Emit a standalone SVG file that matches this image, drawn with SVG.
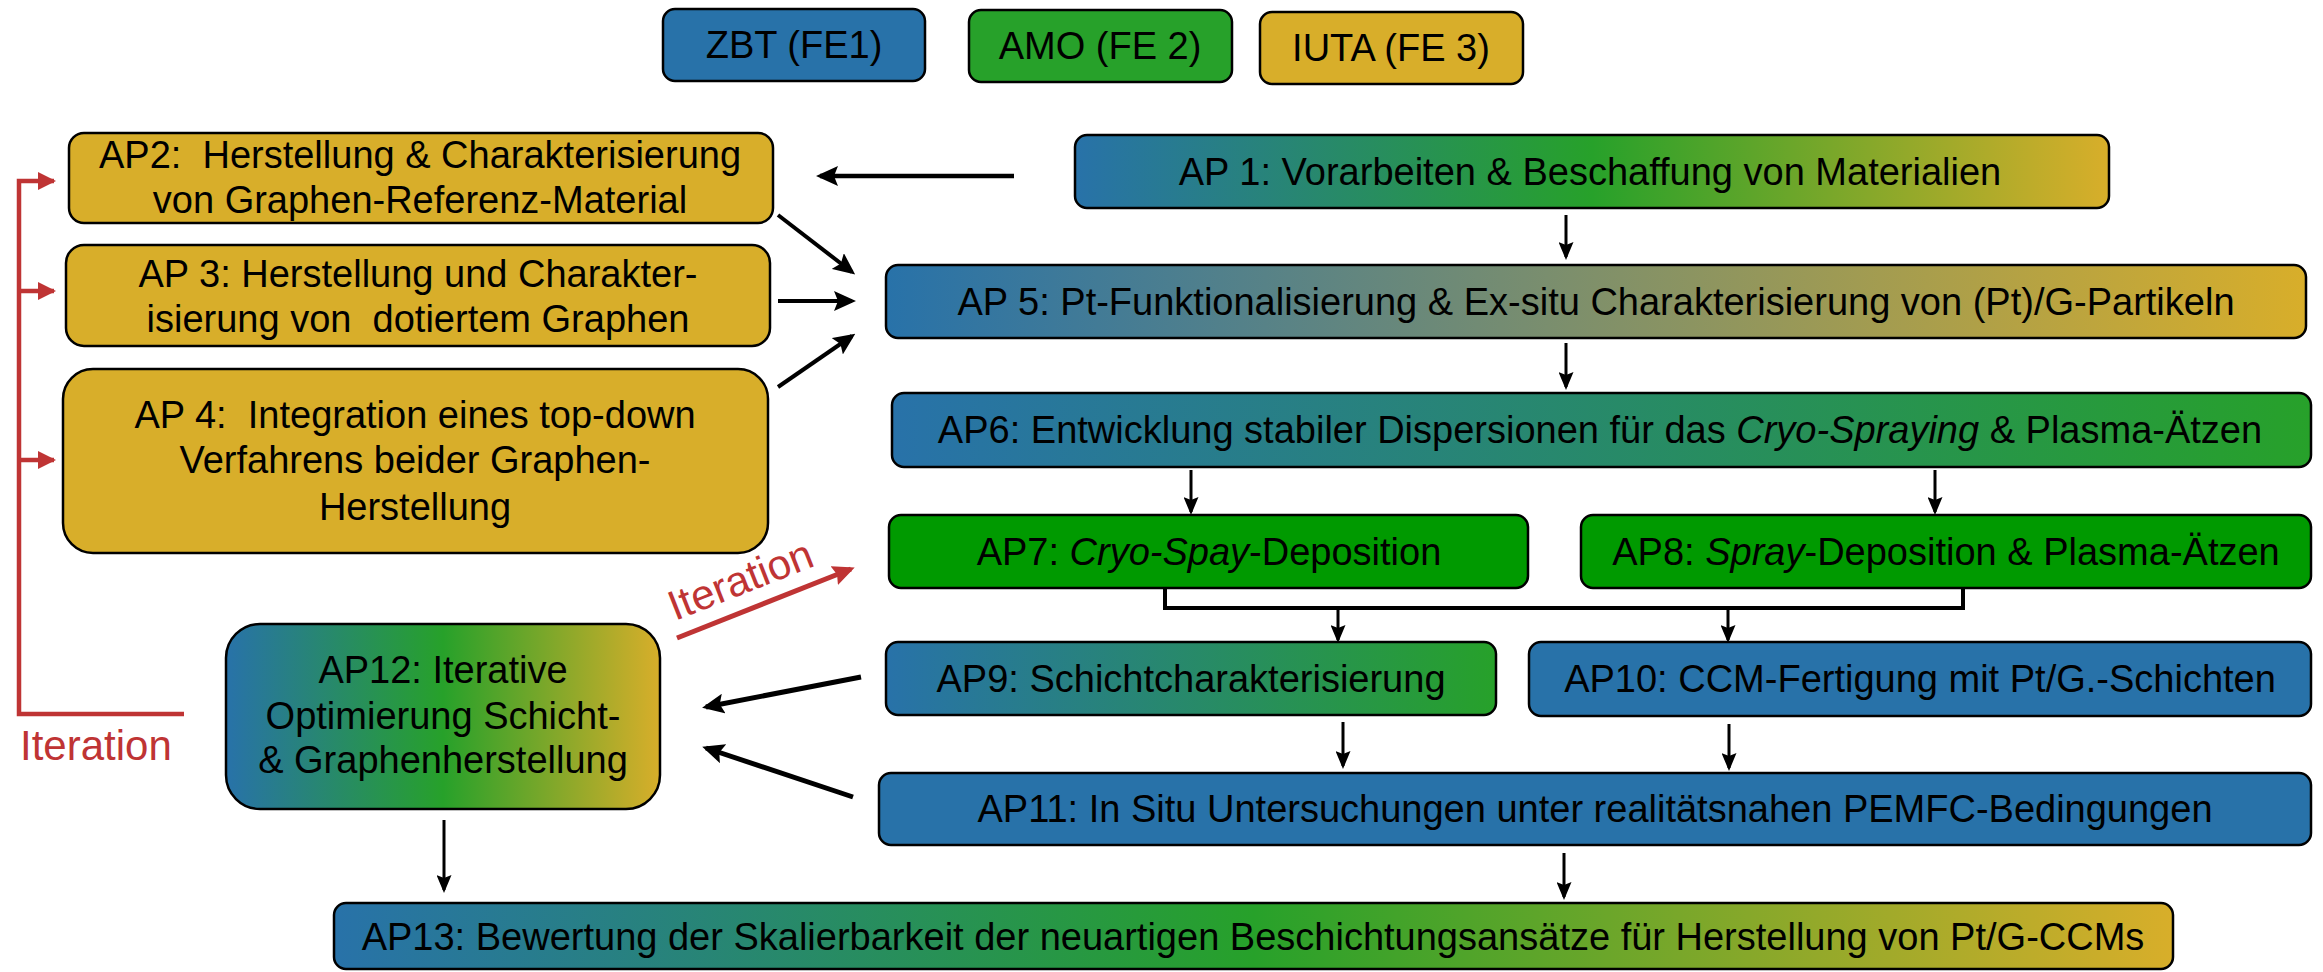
<svg xmlns="http://www.w3.org/2000/svg" width="2323" height="972" viewBox="0 0 2323 972">
<style>
.box{stroke:#000;stroke-width:2.5}
.t{font-family:"Liberation Sans",Arial,sans-serif;font-size:38px;fill:#000;text-anchor:middle}
.i{font-style:italic}
.blue{fill:#2872A9}
.green{fill:#27A12A}
.dgreen{fill:#009A00}
.gold{fill:#D8AE2A}
.a{stroke:#000;fill:none}
.r{stroke:#BF3434;fill:none}
.rt{font-family:"Liberation Sans",Arial,sans-serif;font-size:42px;fill:#BF3434}
</style>
<defs>
<linearGradient id="gBGY" x1="0" y1="0" x2="1" y2="0">
<stop offset="0" stop-color="#2872A9"/><stop offset="0.5" stop-color="#27A12A"/><stop offset="1" stop-color="#D8AE2A"/>
</linearGradient>
<linearGradient id="gBY" x1="0" y1="0" x2="1" y2="0">
<stop offset="0" stop-color="#2872A9"/><stop offset="1" stop-color="#D8AE2A"/>
</linearGradient>
<linearGradient id="gBG" x1="0" y1="0" x2="1" y2="0">
<stop offset="0" stop-color="#2872A9"/><stop offset="1" stop-color="#27A12A"/>
</linearGradient>
<marker id="ah" markerUnits="userSpaceOnUse" viewBox="0 0 22 20" refX="18" refY="10" markerWidth="22" markerHeight="20" orient="auto">
<path d="M0,0 L22,10 L0,20 L4,10 z" fill="#000"/>
</marker>
<marker id="ahs" markerUnits="userSpaceOnUse" viewBox="0 0 18 15" refX="15" refY="7.5" markerWidth="18" markerHeight="15" orient="auto">
<path d="M0,0 L18,7.5 L0,15 L3,7.5 z" fill="#000"/>
</marker>
<marker id="ahr" markerUnits="userSpaceOnUse" viewBox="0 0 22 20" refX="18" refY="10" markerWidth="22" markerHeight="20" orient="auto">
<path d="M0,0 L22,10 L0,20 L3,10 z" fill="#BF3434"/>
</marker>
<marker id="ahrs" markerUnits="userSpaceOnUse" viewBox="0 0 18 18" refX="16" refY="9" markerWidth="18" markerHeight="18" orient="auto">
<path d="M0,0 L18,9 L0,18 z" fill="#BF3434"/>
</marker>
</defs>

<g id="legend-zbt"><rect class="box blue" x="663" y="9" width="262" height="72" rx="12"/><text class="t" x="794" y="58">ZBT (FE1)</text></g>
<g id="legend-amo"><rect class="box green" x="969" y="10" width="263" height="72" rx="12"/><text class="t" x="1100" y="59">AMO (FE 2)</text></g>
<g id="legend-iuta"><rect class="box gold" x="1260" y="12" width="263" height="72" rx="12"/><text class="t" x="1391" y="61">IUTA (FE 3)</text></g>

<g id="ap1"><rect class="box" fill="url(#gBGY)" x="1075" y="135" width="1034" height="73" rx="12"/><text class="t" x="1590" y="185">AP 1: Vorarbeiten &amp; Beschaffung von Materialien</text></g>
<g id="ap2"><rect class="box gold" x="69" y="133" width="704" height="90" rx="15"/><text class="t" x="420" y="168">AP2:&#160; Herstellung &amp; Charakterisierung</text><text class="t" x="420" y="213">von Graphen-Referenz-Material</text></g>
<g id="ap3"><rect class="box gold" x="66" y="245" width="704" height="101" rx="18"/><text class="t" x="418" y="287">AP 3: Herstellung und Charakter-</text><text class="t" x="418" y="332">isierung von&#160; dotiertem Graphen</text></g>
<g id="ap4"><rect class="box gold" x="63" y="369" width="705" height="184" rx="30"/><text class="t" x="415" y="428">AP 4:&#160; Integration eines top-down</text><text class="t" x="415" y="473">Verfahrens beider Graphen-</text><text class="t" x="415" y="520">Herstellung</text></g>
<g id="ap5"><rect class="box" fill="url(#gBY)" x="886" y="265" width="1420" height="73" rx="12"/><text class="t" x="1596" y="315">AP 5: Pt-Funktionalisierung &amp; Ex-situ Charakterisierung von (Pt)/G-Partikeln</text></g>
<g id="ap6"><rect class="box" fill="url(#gBG)" x="892" y="393" width="1419" height="74" rx="12"/><text class="t" x="1600" y="443">AP6: Entwicklung stabiler Dispersionen für das <tspan class="i">Cryo-Spraying</tspan> &amp; Plasma-Ätzen</text></g>
<g id="ap7"><rect class="box dgreen" x="889" y="515" width="639" height="73" rx="12"/><text class="t" x="1209" y="565">AP7: <tspan class="i">Cryo-Spay</tspan>-Deposition</text></g>
<g id="ap8"><rect class="box dgreen" x="1581" y="515" width="730" height="73" rx="12"/><text class="t" x="1946" y="565">AP8: <tspan class="i">Spray</tspan>-Deposition &amp; Plasma-Ätzen</text></g>
<g id="ap9"><rect class="box" fill="url(#gBG)" x="886" y="642" width="610" height="73" rx="12"/><text class="t" x="1191" y="692">AP9: Schichtcharakterisierung</text></g>
<g id="ap10"><rect class="box blue" x="1529" y="642" width="782" height="74" rx="12"/><text class="t" x="1920" y="692">AP10: CCM-Fertigung mit Pt/G.-Schichten</text></g>
<g id="ap11"><rect class="box blue" x="879" y="773" width="1432" height="72" rx="12"/><text class="t" x="1595" y="822">AP11: In Situ Untersuchungen unter realitätsnahen PEMFC-Bedingungen</text></g>
<g id="ap12"><rect class="box" fill="url(#gBGY)" x="226" y="624" width="434" height="185" rx="34"/><text class="t" x="443" y="683">AP12: Iterative</text><text class="t" x="443" y="729">Optimierung Schicht-</text><text class="t" x="443" y="773">&amp; Graphenherstellung</text></g>
<g id="ap13"><rect class="box" fill="url(#gBGY)" x="334" y="903" width="1839" height="66" rx="12"/><text class="t" x="1253" y="950">AP13: Bewertung der Skalierbarkeit der neuartigen Beschichtungsansätze für Herstellung von Pt/G-CCMs</text></g>

<g id="connectors">
<line class="a" stroke-width="4.5" x1="1014" y1="176" x2="820" y2="176" marker-end="url(#ah)"/>
<line class="a" stroke-width="4" x1="778" y1="215" x2="852" y2="272" marker-end="url(#ah)"/>
<line class="a" stroke-width="4" x1="778" y1="301" x2="852" y2="301" marker-end="url(#ah)"/>
<line class="a" stroke-width="4" x1="778" y1="387" x2="852" y2="336" marker-end="url(#ah)"/>
<line class="a" stroke-width="3" x1="1566" y1="215" x2="1566" y2="257" marker-end="url(#ahs)"/>
<line class="a" stroke-width="3" x1="1566" y1="343" x2="1566" y2="387" marker-end="url(#ahs)"/>
<line class="a" stroke-width="3" x1="1191" y1="470" x2="1191" y2="512" marker-end="url(#ahs)"/>
<line class="a" stroke-width="3" x1="1935" y1="470" x2="1935" y2="512" marker-end="url(#ahs)"/>
<path class="a" stroke-width="4" d="M1165 588 V608 H1963 V588"/>
<line class="a" stroke-width="3" x1="1338" y1="608" x2="1338" y2="640" marker-end="url(#ahs)"/>
<line class="a" stroke-width="3" x1="1728" y1="608" x2="1728" y2="640" marker-end="url(#ahs)"/>
<line class="a" stroke-width="3" x1="1343" y1="722" x2="1343" y2="766" marker-end="url(#ahs)"/>
<line class="a" stroke-width="3" x1="1729" y1="724" x2="1729" y2="768" marker-end="url(#ahs)"/>
<line class="a" stroke-width="3" x1="1564" y1="853" x2="1564" y2="897" marker-end="url(#ahs)"/>
<line class="a" stroke-width="3" x1="444" y1="820" x2="444" y2="890" marker-end="url(#ahs)"/>
<line class="a" stroke-width="5" x1="861" y1="677" x2="706" y2="707" marker-end="url(#ah)"/>
<line class="a" stroke-width="5" x1="853" y1="797" x2="706" y2="748" marker-end="url(#ah)"/>
<path class="r" stroke-width="4.5" d="M184 714 H19 V181 H54" marker-end="url(#ahrs)"/>
<line class="r" stroke-width="4.5" x1="19" y1="291" x2="54" y2="291" marker-end="url(#ahrs)"/>
<line class="r" stroke-width="4.5" x1="19" y1="460" x2="54" y2="460" marker-end="url(#ahrs)"/>
<line class="r" stroke-width="5" x1="677" y1="638" x2="851" y2="569" marker-end="url(#ahr)"/>
<text class="rt" x="20" y="760">Iteration</text>
<text class="rt" transform="translate(675,621) rotate(-21.5)">Iteration</text>
</g>
</svg>
